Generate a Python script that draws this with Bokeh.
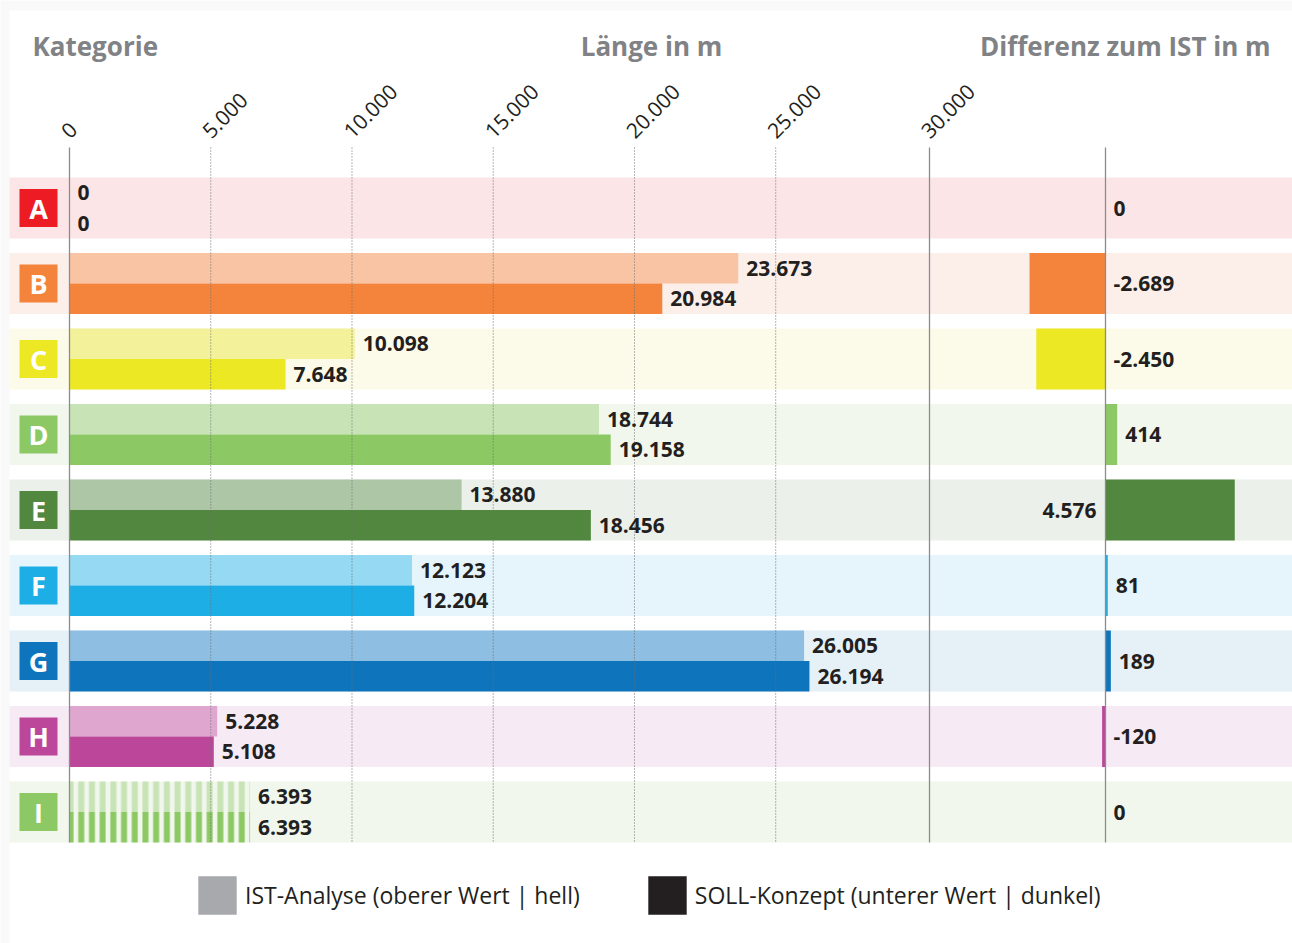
from math import pi
from bokeh.plotting import figure
from bokeh.models import Range1d, Legend, LegendItem
from bokeh.core.properties import value
from bokeh.embed import file_html
from bokeh.resources import INLINE

# ---------------- data ----------------
categories = ["A", "B", "C", "D", "E", "F", "G", "H", "I"]
ist_values = [0, 23673, 10098, 18744, 13880, 12123, 26005, 5228, 6393]    # IST-Analyse (oberer Wert | hell)
soll_values = [0, 20984, 7648, 19158, 18456, 12204, 26194, 5108, 6393]   # SOLL-Konzept (unterer Wert | dunkel)
diff_values = [0, -2689, -2450, 414, 4576, 81, 189, -120, 0]            # Differenz zum IST
tick_values = [0, 5000, 10000, 15000, 20000, 25000, 30000]
tick_labels = ["0", "5.000", "10.000", "15.000", "20.000", "25.000", "30.000"]
dark_colors = ["#ED1C24", "#F4843B", "#ECE823", "#8CC863", "#51873E", "#1DAEE5", "#0E74BC", "#BC4699", "#8CC863"]
light_colors = ["#F5A0A3", "#F9C4A3", "#F3F29A", "#C8E4B6", "#ADC6A6", "#95D9F3", "#8EBEE1", "#DFA7CF", "#C8E4B6"]
band_colors = ["#FCE5E6", "#FCEFEA", "#FCFBE9", "#F1F7EC", "#ECF0EA", "#E6F5FB", "#E6F0F7", "#F6EAF4", "#F1F7EC"]
striped = [False, False, False, False, False, False, False, False, True]


def fmt(v):
    return f"{v:,}".replace(",", ".")


# ---------------- layout constants ----------------
FIG_W, FIG_H = 1292, 943
M = 35.4                 # metres per pixel
ZERO_PX = 69             # main zero, px from left of frame
DIFF_ZERO_PX = 1105      # difference zero, px from left of frame
ROW_PX = 75.5
FIRST_ROW_PX = 207.5
HB = 30.5 / ROW_PX       # one bar height in row units
DIVIDER = 860 * M        # panel divider line (drawn at the 30.000 mark)
CAT_X = -31 * M
BAND_LEFT = -60 * M
CARD_TOP = -197.5 / ROW_PX
LINE_TOP = -60.5 / ROW_PX
LINE_BOT = 8 + HB
TICK_Y = -74.0 / ROW_PX
HEADER_Y = -162.5 / ROW_PX
NAN = float("nan")

FONT = value("Open Sans")
TXT = "#231F20"
GRAY = "#808285"

p = figure(width=FIG_W, height=FIG_H, output_backend="svg", toolbar_location=None,
           x_axis_type=None, y_axis_type=None, min_border=0,
           x_range=Range1d(-ZERO_PX * M, (FIG_W - ZERO_PX) * M),
           y_range=Range1d((FIG_H - FIRST_ROW_PX) / ROW_PX, -FIRST_ROW_PX / ROW_PX))
p.extra_x_ranges = {"diff": Range1d(-DIFF_ZERO_PX * M, (FIG_W - DIFF_ZERO_PX) * M)}
p.outline_line_color = None
p.grid.visible = False
p.background_fill_color = "#F9F9F9"
p.border_fill_color = "#F9F9F9"

rows = list(range(len(categories)))

# white card
p.quad(left=BAND_LEFT, right=p.x_range.end, top=CARD_TOP, bottom=p.y_range.start,
       fill_color="white", line_color=None)

# bands
p.quad(left=BAND_LEFT, right=p.x_range.end,
       top=[r - HB for r in rows], bottom=[r + HB for r in rows],
       fill_color=band_colors, line_color=None)

# solid bars
solid = [i for i in rows if not striped[i]]
p.quad(left=0, right=[ist_values[i] for i in solid],
       top=[rows[i] - HB for i in solid], bottom=[rows[i] for i in solid],
       fill_color=[light_colors[i] for i in solid], line_color=None)
p.quad(left=0, right=[soll_values[i] for i in solid],
       top=[rows[i] for i in solid], bottom=[rows[i] + HB for i in solid],
       fill_color=[dark_colors[i] for i in solid], line_color=None)

# striped bars
for i in rows:
    if striped[i]:
        p.quad(left=[0], right=[ist_values[i]], top=[rows[i] - HB], bottom=[rows[i]],
               fill_alpha=0, line_color=None, hatch_pattern="vertical_line",
               hatch_color=light_colors[i], hatch_scale=10.7, hatch_weight=6)
        p.quad(left=[0], right=[soll_values[i]], top=[rows[i]], bottom=[rows[i] + HB],
               fill_alpha=0, line_color=None, hatch_pattern="vertical_line",
               hatch_color=dark_colors[i], hatch_scale=10.7, hatch_weight=6)

# difference bars
p.quad(left=[min(d, 0) for d in diff_values], right=[max(d, 0) for d in diff_values],
       top=[r - HB for r in rows], bottom=[r + HB for r in rows],
       fill_color=dark_colors, line_color=None, x_range_name="diff")

# vertical lines
dotted = [t for t in tick_values if 0 < t < tick_values[-1]]
p.segment(x0=dotted, x1=dotted, y0=LINE_TOP, y1=LINE_BOT, line_color="#6D6E71",
          line_width=1, line_dash="1 2")
p.segment(x0=[0, DIVIDER], x1=[0, DIVIDER], y0=LINE_TOP, y1=LINE_BOT,
          line_color="#8A8C8E", line_width=1.3)
p.segment(x0=[0], x1=[0], y0=LINE_TOP, y1=LINE_BOT, line_color="#8A8C8E",
          line_width=1.3, x_range_name="diff")

# tick labels (rotated)
tick_pos = list(tick_values[:-1]) + [DIVIDER]
p.text(x=tick_pos, y=TICK_Y, text=tick_labels, angle=pi / 4, x_offset=-5,
       text_align="left", text_baseline="middle", text_font=FONT,
       text_font_size="21px", text_color=TXT)

# category squares
p.scatter(x=CAT_X, y=rows, marker="square", size=38, fill_color=dark_colors, line_color=None)
p.text(x=CAT_X, y=rows, text=categories, text_align="center", text_baseline="middle",
       text_font=FONT, text_font_style="bold", text_font_size="27px", text_color="white")

# value labels
p.text(x=ist_values, y=[r - HB / 2 for r in rows], text=[fmt(v) for v in ist_values],
       x_offset=8, text_align="left", text_baseline="middle", text_font=FONT,
       text_font_style="bold", text_font_size="21px", text_color=TXT)
p.text(x=soll_values, y=[r + HB / 2 for r in rows], text=[fmt(v) for v in soll_values],
       x_offset=8, text_align="left", text_baseline="middle", text_font=FONT,
       text_font_style="bold", text_font_size="21px", text_color=TXT)

# difference labels
big = [i for i in rows if diff_values[i] > 1000]
small = [i for i in rows if diff_values[i] <= 1000]
p.text(x=[max(diff_values[i], 0) for i in small], y=[rows[i] for i in small],
       text=[fmt(diff_values[i]) for i in small], x_offset=8, text_align="left",
       text_baseline="middle", text_font=FONT, text_font_style="bold",
       text_font_size="21px", text_color=TXT, x_range_name="diff")
p.text(x=[0 for i in big], y=[rows[i] for i in big],
       text=[fmt(diff_values[i]) for i in big], x_offset=-9, text_align="right",
       text_baseline="middle", text_font=FONT, text_font_style="bold",
       text_font_size="21px", text_color=TXT, x_range_name="diff")

# headers
p.text(x=[-37 * M], y=[HEADER_Y], text=["Kategorie"], text_align="left", text_baseline="middle",
       text_font=FONT, text_font_style="bold", text_font_size="26px", text_color=GRAY)
p.text(x=[582 * M], y=[HEADER_Y], text=["Länge in m"], text_align="center", text_baseline="middle",
       text_font=FONT, text_font_style="bold", text_font_size="26px", text_color=GRAY)
p.text(x=[165 * M], y=[HEADER_Y], text=["Differenz zum IST in m"], text_align="right",
       text_baseline="middle", text_font=FONT, text_font_style="bold", text_font_size="26px",
       text_color=GRAY, x_range_name="diff")

# legend (proxy renderers with one invisible point each)
r_ist = p.quad(left=[NAN], right=[NAN], top=[NAN], bottom=[NAN], fill_color="#A7A9AC", line_color=None)
r_soll = p.quad(left=[NAN], right=[NAN], top=[NAN], bottom=[NAN], fill_color="#231F20", line_color=None)
legend = Legend(items=[LegendItem(label="IST-Analyse (oberer Wert | hell)", renderers=[r_ist]),
                       LegendItem(label="SOLL-Konzept (unterer Wert | dunkel)", renderers=[r_soll])],
                orientation="horizontal", location=(193, 24), glyph_width=48, glyph_height=48,
                label_height=48, label_standoff=4, spacing=63, padding=0, margin=0,
                border_line_color=None, background_fill_alpha=0,
                label_text_font="Open Sans", label_text_font_size="23px",
                label_text_color=TXT, label_text_baseline="middle")
p.add_layout(legend)

open("out.html", "w").write(file_html(p, INLINE))
